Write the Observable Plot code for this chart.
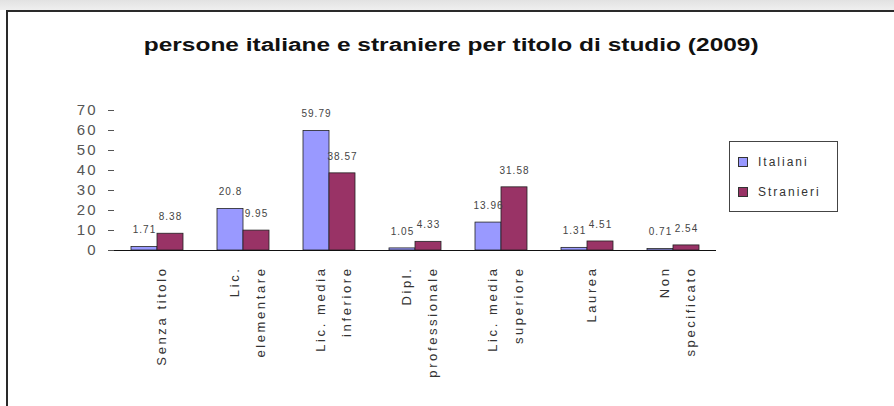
<!DOCTYPE html>
<html>
<head>
<meta charset="utf-8">
<script src="https://cdn.jsdelivr.net/npm/d3@7"></script>
<script src="https://cdn.jsdelivr.net/npm/@observablehq/plot@0.6"></script>
<style>
  html, body { margin: 0; padding: 0; background: #fff; width: 894px; height: 406px; overflow: hidden; font-family: "Liberation Sans", Arial, sans-serif; }
  #band { position: absolute; left: 0; top: 0; width: 894px; height: 10px; background: linear-gradient(#e2e2e2, #efefef); }
  #frame { position: absolute; left: 6px; top: 10px; width: 900px; height: 410px; border-top: 2px solid #2a2a2a; border-left: 2px solid #2a2a2a; }
  #chart { position: absolute; left: 0; top: 0; }
  #title { position: absolute; left: 6px; width: 894px; top: 35px; text-align: center; font-weight: bold; font-size: 18px; color: #111; transform: scaleX(1.36); transform-origin: 452px 0; }
  #legend { position: absolute; left: 729px; top: 141px; width: 107px; height: 69px; border: 1px solid #444; background: #fff; font-size: 12px; letter-spacing: 2px; color: #333; }
  .item { position: absolute; left: 8px; display: flex; align-items: center; }
  .sw { width: 8px; height: 8px; border: 1px solid #333; margin-right: 10px; }
</style>
</head>
<body>
<div id="band"></div>
<div id="frame"></div>
<div id="chart"></div>
<div id="title">persone italiane e straniere per titolo di studio (2009)</div>
<div id="legend"></div>
<script>
const categories = ["Senza titolo", "Lic. elementare", "Lic. media inferiore", "Dipl. professionale", "Lic. media superiore", "Laurea", "Non specificato"];
const tickLabels = ["Senza titolo", "Lic.\nelementare", "Lic. media\ninferiore", "Dipl.\nprofessionale", "Lic. media\nsuperiore", "Laurea", "Non\nspecificato"];
const series = ["Italiani", "Stranieri"];
const italiani = [1.71, 20.8, 59.79, 1.05, 13.96, 1.31, 0.71];
const stranieri = [8.38, 9.95, 38.57, 4.33, 31.58, 4.51, 2.54];
const colors = ["#9999ff", "#993366"];
const yTicks = [0, 10, 20, 30, 40, 50, 60, 70];

const data = [];
categories.forEach((c, i) => {
  data.push({cat: c, serie: series[0], v: italiani[i]});
  data.push({cat: c, serie: series[1], v: stranieri[i]});
});
const labelOf = new Map(categories.map((c, i) => [c, tickLabels[i]]));

const chart = Plot.plot({
  width: 894,
  height: 406,
  marginLeft: 112,
  marginRight: 176,
  marginTop: 110,
  marginBottom: 156,
  style: {background: "transparent", fontFamily: "Liberation Sans, Arial, sans-serif"},
  fx: {domain: categories, padding: 0, label: null, axis: null},
  x: {domain: series, paddingInner: 0, paddingOuter: 0.6, axis: null},
  y: {domain: [0, 70], label: null},
  color: {domain: series, range: colors},
  marks: [
    Plot.axisY({ticks: yTicks, tickSize: 6, tickPadding: 11, fontSize: 15, color: "#555", label: null}),
    Plot.axisFx({anchor: "bottom", tickRotate: -90, tickSize: 0, tickPadding: 16, fontSize: 13, color: "#333", label: null, tickFormat: d => labelOf.get(d), lineHeight: 2.05}),
    Plot.barY(data, {fx: "cat", x: "serie", y: "v", fill: "serie", stroke: "#222", strokeWidth: 0.8}),
    Plot.text(data, {fx: "cat", x: "serie", y: "v", text: d => String(d.v), dy: -17, fontSize: 10, fill: "#444"}),
    Plot.ruleY([0], {stroke: "#111", strokeWidth: 1.2})
  ]
});
const svg = d3.select(chart);
svg.selectAll('g[aria-label="fx-axis tick label"]').style("letter-spacing", "2.6px");
svg.selectAll('g[aria-label="y-axis tick label"]').style("letter-spacing", "2px");
svg.selectAll('g[aria-label="text"]').style("letter-spacing", "1px");
document.getElementById("chart").appendChild(chart);

const legend = document.getElementById("legend");
series.forEach((s, i) => {
  const item = document.createElement("div");
  item.className = "item";
  item.style.top = (i === 0 ? 13 : 43) + "px";
  const sw = document.createElement("span");
  sw.className = "sw";
  sw.style.background = colors[i];
  const t = document.createElement("span");
  t.textContent = s;
  item.appendChild(sw);
  item.appendChild(t);
  legend.appendChild(item);
});
</script>
</body>
</html>
